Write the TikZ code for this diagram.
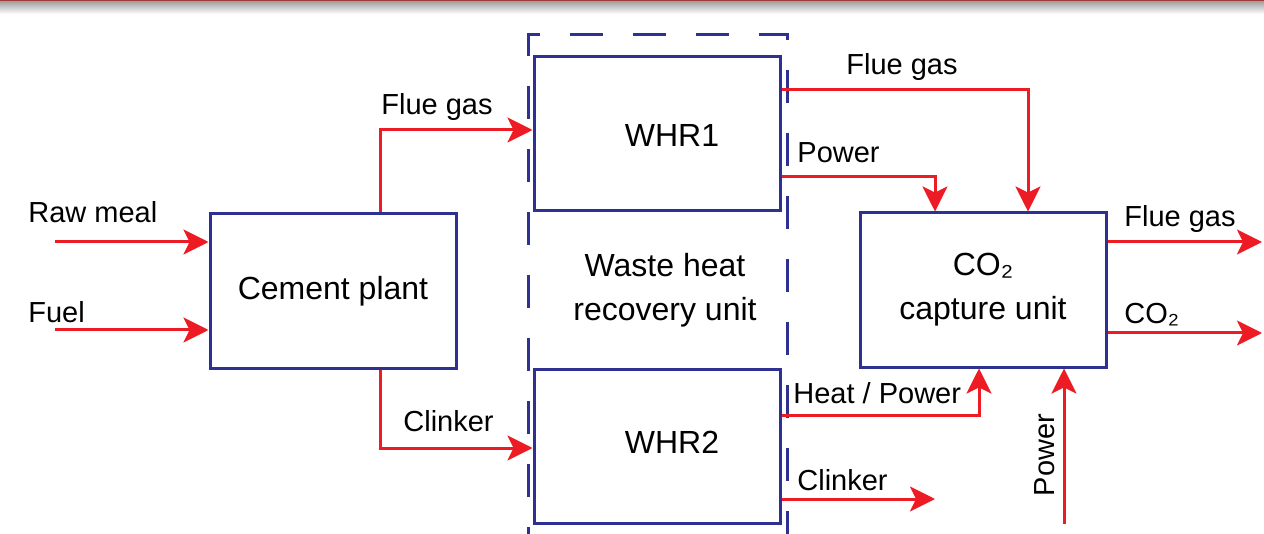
\documentclass[tikz,border=0pt]{standalone}
\usepackage{fontspec}
\setmainfont{Liberation Sans}
\usetikzlibrary{arrows.meta}

\definecolor{boxblue}{RGB}{46,49,146}
\definecolor{flowred}{RGB}{237,28,36}
\definecolor{barred}{RGB}{165,60,60}

\tikzset{
  unit/.style={draw=boxblue, line width=1.5pt, minimum width=123pt, minimum height=77pt,
    font=\fontsize{16}{22}\selectfont, align=center},
  flow/.style={draw=flowred, line width=1.5pt, -{Stealth[length=12.5pt,width=12.5pt,inset=3pt]}},
  tag/.style={font=\fontsize{14.5}{17}\selectfont, inner sep=0pt, anchor=base west},
}

\begin{document}
\begin{tikzpicture}[x=0.5pt,y=-0.5pt]
  \useasboundingbox (0,0) rectangle (1264,534);

  % Top bar
  \fill[barred] (0,0) rectangle (1264,2);
  \shade[top color=black!35, bottom color=white] (0,2) rectangle (1264,14);

  % Dashed frame round the recovery unit
  \draw[boxblue, line width=1.5pt, dash pattern=on 16.5pt off 15pt]
    (528,560) -- (528,35) -- (787,35) -- (787,560);

  % Units
  \node[unit] (cem) at (333,291) {Cement plant};
  \node[unit, fill=white] (whr1) at (657,134) {};
  \node[unit, fill=white] (whr2) at (657,446) {};
  \node[unit] (cco) at (983,290) {CO₂\\capture unit};
  \node[font=\fontsize{16}{22}\selectfont, align=center] (wtxt) at (665,290) {Waste heat\\recovery unit};
  \node[font=\fontsize{16}{22}\selectfont] (w1txt) at (672,135) {WHR1};
  \node[font=\fontsize{16}{22}\selectfont] (w2txt) at (672,442) {WHR2};

  % Free ends
  \coordinate (rawin) at (55,242);
  \coordinate (fuelin) at (55,330);
  \coordinate (clkout) at (935,499);
  \coordinate (pwrin) at (1064,524);
  \coordinate (flueout) at (1262,242);
  \coordinate (co2out) at (1262,333);

  % Streams
  \draw[flow] (rawin) -- (cem.west |- rawin);
  \draw[flow] (fuelin) -- (cem.west |- fuelin);
  \draw[flow] ([xshift=23.5pt]cem.north) |- ([yshift=2pt]whr1.west);
  \draw[flow] ([xshift=23.5pt]cem.south) |- ([yshift=-1pt]whr2.west);
  \draw[flow] ([yshift=22pt]whr1.east) -| ([xshift=22.5pt]cco.north);
  \draw[flow] ([yshift=-21.5pt]whr1.east) -| ([xshift=-24pt]cco.north);
  \draw[flow] ([yshift=15.5pt]whr2.east) -| ([xshift=-2pt]cco.south);
  \draw[flow] (whr2.east |- clkout) -- (clkout);
  \draw[flow] (pwrin) -- (pwrin |- cco.south);
  \draw[flow] (cco.east |- flueout) -- (flueout);
  \draw[flow] (cco.east |- co2out) -- (co2out);

  % Stream labels
  \node[tag] (lraw) at (28,223) {Raw meal};
  \node[tag] (lfuel) at (28,322) {Fuel};
  \node[tag] (lflue1) at (381,115) {Flue gas};
  \node[tag] (lclk1) at (403,431) {Clinker};
  \node[tag] (lflue2) at (846,75) {Flue gas};
  \node[tag] (lpwr1) at (797,163) {Power};
  \node[tag] (lheat) at (793,403) {Heat / Power};
  \node[tag] (lclk2) at (797,490) {Clinker};
  \node[tag] (lflue3) at (1124,227) {Flue gas};
  \node[tag] (lco2) at (1124,323) {CO₂};
  \node[font=\fontsize{14.5}{17}\selectfont, rotate=90] (lpwr2) at (1045,455) {Power};
\end{tikzpicture}
\end{document}
